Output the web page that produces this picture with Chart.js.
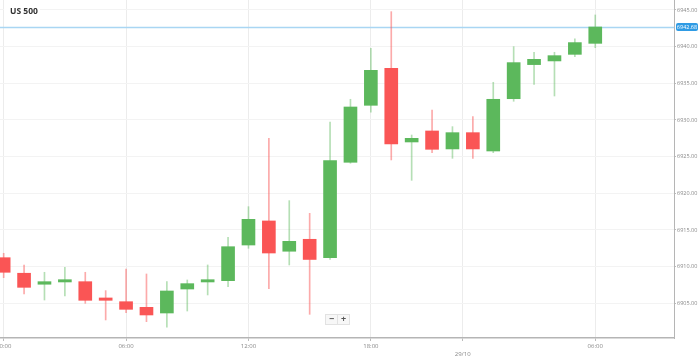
<!DOCTYPE html>
<html>
<head>
<meta charset="utf-8">
<script src="https://cdn.jsdelivr.net/npm/chart.js@4.4.1/dist/chart.umd.min.js"></script>
<style>
  html, body { margin: 0; padding: 0; background: #fff; }
  #wrap { position: relative; width: 699px; height: 357px; }
  #zoomBtns { position: absolute; left: 325px; top: 314px; display: flex; font-family: 'Open Sans', sans-serif; }
  #zoomBtns div { width: 11px; height: 9px; border: 1px solid #e2e2e2; background: #f7f7f7; color: #555;
    font-size: 9px; line-height: 8px; text-align: center; font-weight: bold; }
  #zoomBtns div + div { border-left: none; }
</style>
</head>
<body>
<div id="wrap">
  <canvas id="c" width="699" height="357"></canvas>
  <div id="zoomBtns"><div>−</div><div>+</div></div>
</div>
<script>
// ---- data ----
const chartTitle = 'US 500';
const candleTimes = ['00:00','01:00','02:00','03:00','04:00','05:00','06:00','07:00','08:00','09:00','10:00','11:00','12:00','13:00','14:00','15:00','16:00','17:00','18:00','19:00','20:00','21:00','23:00','00:00','01:00','02:00','03:00','04:00','05:00','06:00'];
const opens  = [6911.22,6909.10,6907.60,6907.91,6907.95,6905.73,6905.22,6904.45,6903.68,6906.95,6907.91,6908.09,6912.95,6916.23,6912.10,6913.73,6911.22,6924.23,6932.00,6937.05,6927.00,6928.50,6926.05,6928.27,6925.77,6932.90,6937.55,6938.05,6938.95,6940.45];
const closes = [6909.23,6907.18,6907.95,6908.22,6905.41,6905.41,6904.18,6903.41,6906.68,6907.68,6908.22,6912.72,6916.45,6911.86,6913.45,6910.98,6924.45,6931.77,6936.77,6926.73,6927.50,6926.00,6928.27,6926.05,6932.82,6937.82,6938.27,6938.77,6940.55,6942.68];
const highs  = [6911.82,6910.23,6909.23,6909.91,6909.23,6906.73,6909.68,6909.00,6907.95,6908.18,6910.23,6914.00,6918.18,6927.50,6919.00,6917.27,6929.73,6932.82,6939.77,6944.77,6927.95,6931.36,6929.09,6930.45,6935.14,6940.00,6939.23,6939.23,6941.05,6944.32];
const lows   = [6908.50,6906.27,6905.45,6906.00,6905.00,6902.73,6903.72,6902.50,6901.73,6903.95,6906.14,6907.27,6912.50,6907.00,6910.23,6903.50,6911.00,6924.10,6931.05,6924.55,6921.77,6925.54,6924.77,6924.77,6925.54,6932.55,6934.86,6933.27,6938.64,6939.86];
const xTickPositions = [0, 6, 12, 18, 22.5, 29];
const xTickLabels = ['00:00', '06:00', '12:00', '18:00', '29/10', '06:00'];
const yTickValues = [6905, 6910, 6915, 6920, 6925, 6930, 6935, 6940, 6945];

// ---- styles ----
const UP = 'rgb(92,184,92)', DOWN = 'rgb(250,85,85)';
const UP_WICK = 'rgba(92,184,92,0.45)', DOWN_WICK = 'rgba(250,85,85,0.5)';
const FONT = "'Open Sans', 'DejaVu Sans', sans-serif";

const isUp = closes.map((c, i) => c >= opens[i]);
const bodies = opens.map((o, i) => ({ x: i, y: [o, closes[i]] }));
const wicks = lows.map((l, i) => ({ x: i, y: [l, highs[i]] }));
const lastClose = closes[closes.length - 1];

const overlay = {
  id: 'overlay',
  beforeDatasetsDraw(chart) {
    const { ctx, chartArea, scales } = chart;
    const y = Math.round(scales.y.getPixelForValue(lastClose)) + 0.5;
    ctx.save();
    ctx.strokeStyle = '#a9d6f3';
    ctx.lineWidth = 1.5;
    ctx.beginPath();
    ctx.moveTo(chartArea.left, y);
    ctx.lineTo(chartArea.right, y);
    ctx.stroke();
    ctx.restore();
  },
  afterDraw(chart) {
    const { ctx, chartArea, scales } = chart;
    const y = scales.y.getPixelForValue(lastClose);
    ctx.save();
    // price tag
    ctx.fillStyle = '#2f9be4';
    const x0 = chartArea.right + 2, w = 22, h = 8;
    ctx.beginPath();
    ctx.roundRect(x0, y - h / 2, w, h, 2);
    ctx.fill();
    ctx.fillStyle = '#fff';
    ctx.font = '5.5px ' + FONT;
    ctx.textBaseline = 'middle';
    ctx.textAlign = 'center';
    ctx.fillText(lastClose.toFixed(2), x0 + w / 2, y + 0.3);
    // title
    ctx.fillStyle = '#fff';
    ctx.fillRect(chartArea.left + 4, chartArea.top + 3, 36, 15);
    ctx.fillStyle = '#333';
    ctx.font = 'bold 8.5px ' + FONT;
    ctx.textAlign = 'left';
    ctx.textBaseline = 'alphabetic';
    ctx.fillText(chartTitle, chartArea.left + 10, chartArea.top + 14);
    ctx.restore();
  }
};

new Chart(document.getElementById('c'), {
  type: 'bar',
  data: {
    datasets: [
      {
        label: 'wick',
        data: wicks,
        backgroundColor: isUp.map(u => u ? UP_WICK : DOWN_WICK),
        barThickness: 1,
        grouped: false,
        order: 2,
        borderWidth: 0
      },
      {
        label: 'body',
        data: bodies,
        backgroundColor: isUp.map(u => u ? UP : DOWN),
        barThickness: 13,
        grouped: false,
        order: 1,
        borderWidth: 0
      }
    ]
  },
  options: {
    responsive: false,
    animation: false,
    layout: { padding: 0 },
    plugins: { legend: { display: false }, tooltip: { enabled: false }, title: { display: false } },
    scales: {
      x: {
        type: 'linear',
        min: -0.18,
        max: 32.86,
        offset: false,
        grid: { offset: false, color: '#ececec', tickColor: '#bbb', tickLength: 3, lineWidth: 1 },
        border: { color: '#b5b5b5', width: 1.5 },
        afterBuildTicks(scale) { scale.ticks = xTickPositions.map(v => ({ value: v })); },
        ticks: {
          autoSkip: false, maxRotation: 0, minRotation: 0, padding: 2,
          color: '#888', font: { family: FONT, size: 6 },
          callback(value, index) {
            const l = xTickLabels[index];
            return l.includes('/') ? ['', l] : l;
          }
        },
        afterFit(scale) { scale.height = 19; scale.paddingLeft = 0; scale.paddingRight = 0; }
      },
      y: {
        position: 'right',
        min: 6900.27,
        max: 6946.36,
        grid: { color: '#f3f3f3', tickColor: '#bbb', tickLength: 2 },
        border: { color: '#b5b5b5', width: 1 },
        afterBuildTicks(scale) { scale.ticks = yTickValues.map(v => ({ value: v })); },
        ticks: {
          padding: 1, color: '#888', font: { family: FONT, size: 5.5 },
          callback(value) { return Number(value).toFixed(2); }
        },
        afterFit(scale) { scale.width = 25; scale.paddingTop = 0; scale.paddingBottom = 0; }
      }
    }
  },
  plugins: [overlay]
});
</script>
</body>
</html>
